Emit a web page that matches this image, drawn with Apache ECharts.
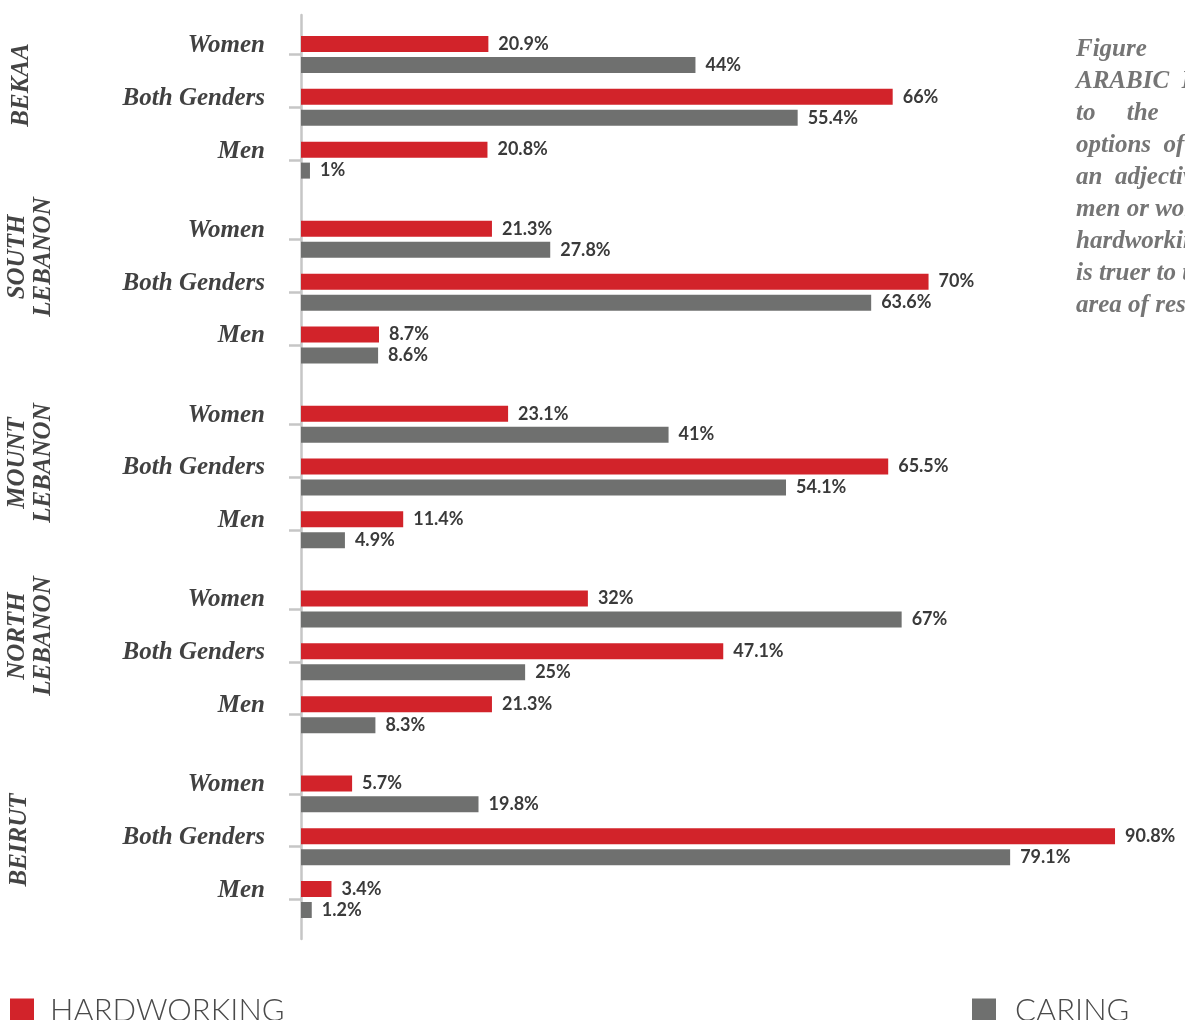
<!DOCTYPE html>
<html>
<head>
<meta charset="utf-8">
<script src="https://cdn.jsdelivr.net/npm/echarts@6/dist/echarts.min.js"></script>
<style>
html,body{margin:0;padding:0;background:#fff;}
#chart{width:1185px;height:1020px;}
</style>
</head>
<body>
<div id="chart"></div>
<script>
// ---- data ----
const regions = ['BEKAA', 'SOUTH\nLEBANON', 'MOUNT\nLEBANON', 'NORTH\nLEBANON', 'BEIRUT'];
const genders = ['Women', 'Both Genders', 'Men'];
// values per region, in gender order (Women, Both Genders, Men)
const hardworking = [
  20.9, 66, 20.8,     // Bekaa
  21.3, 70, 8.7,      // South Lebanon
  23.1, 65.5, 11.4,   // Mount Lebanon
  32, 47.1, 21.3,     // North Lebanon
  5.7, 90.8, 3.4      // Beirut
];
const caring = [
  44, 55.4, 1,
  27.8, 63.6, 8.6,
  41, 54.1, 4.9,
  67, 25, 8.3,
  19.8, 79.1, 1.2
];
const seriesNames = ['HARDWORKING', 'CARING'];
const noteLines = [
  'Figure        14:',
  'ARABIC  RESPONSES',
  'to     the     question',
  'options  of  whether',
  'an  adjective  applies',
  'men or women,',
  'hardworking or caring',
  'is truer to them by',
  'area of residence'
];

// ---- build slotted category axis (spacers give the group gaps) ----
const cats = [''];
const hw = [null];
const cr = [null];
regions.forEach((r, ri) => {
  genders.forEach((g, gi) => {
    if (gi > 0) { cats.push(''); hw.push(null); cr.push(null); }
    else if (ri > 0) { for (let k = 0; k < 2; k++) { cats.push(''); hw.push(null); cr.push(null); } }
    cats.push(g);
    hw.push(hardworking[ri * 3 + gi]);
    cr.push(caring[ri * 3 + gi]);
  });
});
cats.push(''); hw.push(null); cr.push(null);

const slot = 845 / 32;
const gridTop = 54.5 - 1.5 * slot;
const gridHeight = cats.length * slot;

const RED = '#d2232a';
const GREY = '#6f706f';
const serif = '"Liberation Serif", "DejaVu Serif", serif';

const labelCfg = {
  show: true,
  position: 'right',
  distance: 10,
  formatter: '{c}%',
  color: '#3a3a3a',
  fontFamily: 'Lato, "Noto Sans", sans-serif',
  fontWeight: 'bold',
  fontSize: 18
};

const regionY = [85, 257, 463, 636, 840];
const regionX = [22, 31, 31, 31, 20];

const graphics = [];
regions.forEach((r, i) => {
  graphics.push({
    type: 'text',
    x: regionX[i], y: regionY[i],
    rotation: Math.PI / 2,
    style: {
      text: r,
      fill: '#444',
      font: 'italic bold 25px ' + serif,
      textAlign: 'center',
      textVerticalAlign: 'middle',
      lineHeight: 26
    }
  });
});
noteLines.forEach((t, i) => {
  graphics.push({
    type: 'text',
    left: 1076, top: 37 + i * 32,
    style: {
      text: t,
      fill: '#757575',
      font: 'italic bold 25px ' + serif
    }
  });
});

const legendText = { fontSize: 31, color: '#4a4a4a', fontFamily: 'Lato', fontWeight: 300, lineHeight: 24 };

const chart = echarts.init(document.getElementById('chart'));
chart.setOption({
  animation: false,
  grid: { left: 301, top: gridTop, height: gridHeight, width: 95 * 8.965, containLabel: false },
  xAxis: { type: 'value', min: 0, max: 95, show: false },
  yAxis: {
    type: 'category',
    inverse: true,
    data: cats,
    axisLine: { show: true, lineStyle: { color: '#c6c6c6', width: 2.5 } },
    axisTick: {
      show: true,
      alignWithLabel: true,
      length: 12,
      interval: (idx, val) => val !== '',
      lineStyle: { color: '#c6c6c6', width: 2.5 }
    },
    axisLabel: {
      interval: 0,
      margin: 36,
      color: '#414141',
      fontFamily: serif,
      fontStyle: 'italic',
      fontWeight: 'bold',
      fontSize: 25,
      verticalAlign: 'bottom',
      lineHeight: 18
    },
    splitLine: { show: false }
  },
  legend: [
    {
      data: [seriesNames[0]], left: 10, top: 995, padding: 0,
      icon: 'rect', itemWidth: 24, itemHeight: 24,
      textStyle: Object.assign({ padding: [0, 0, 0, 11] }, legendText)
    },
    {
      data: [seriesNames[1]], left: 972, top: 995, padding: 0,
      icon: 'rect', itemWidth: 24, itemHeight: 24,
      textStyle: Object.assign({ padding: [0, 0, 0, 14] }, legendText)
    }
  ],
  series: [
    {
      name: seriesNames[0], type: 'bar', data: hw, barWidth: 16, barGap: '31%',
      itemStyle: { color: RED }, label: labelCfg
    },
    {
      name: seriesNames[1], type: 'bar', data: cr, barWidth: 16, barGap: '31%',
      itemStyle: { color: GREY }, label: labelCfg
    }
  ],
  graphic: graphics
});
</script>
</body>
</html>
